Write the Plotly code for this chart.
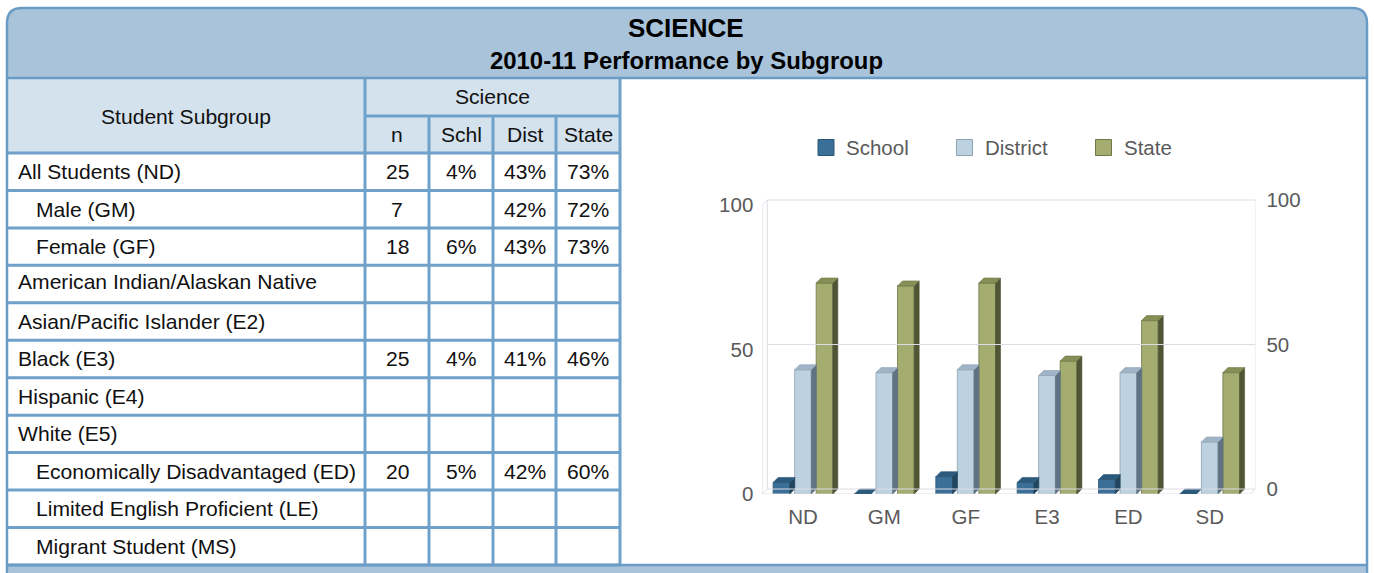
import plotly.graph_objects as go

W, H = 1374, 573

# ---------------- data ----------------
subgroups = ["All Students (ND)", "Male (GM)", "Female (GF)",
             "American Indian/Alaskan Native", "Asian/Pacific Islander (E2)",
             "Black (E3)", "Hispanic (E4)", "White (E5)",
             "Economically Disadvantaged (ED)", "Limited English Proficient (LE)",
             "Migrant Student (MS)"]
levels = [0, 1, 1, 0, 0, 0, 0, 0, 1, 1, 1]
n_vals = ["25", "7", "18", "", "", "25", "", "", "20", "", ""]
schl_vals = ["4%", "", "6%", "", "", "4%", "", "", "5%", "", ""]
dist_vals = ["43%", "42%", "43%", "", "", "41%", "", "", "42%", "", ""]
state_vals = ["73%", "72%", "73%", "", "", "46%", "", "", "60%", "", ""]
col_heads = ["n", "Schl", "Dist", "State"]

categories = ["ND", "GM", "GF", "E3", "ED", "SD"]
school = [4, 0, 6, 4, 5, 0]
district = [43, 42, 43, 41, 42, 18]
state = [73, 72, 73, 46, 60, 42]
series_names = ["School", "District", "State"]
y_ticks = [0, 50, 100]

# ---------------- helpers ----------------
def px(x):
    return x / W

def py(y):
    return 1 - y / H

BORDER = "#6B9CC5"
GRIDC = "#6FA1CA"
HEAD = "#A9C4DA"
CELLHEAD = "#D4E2ED"
FONT = "Liberation Sans, Arial, sans-serif"
TXT = "#111111"
CHTXT = "#5a5a5a"

shapes = []
annotations = []

def P(x, y):
    return f"{px(x):.6f},{py(y):.6f}"

# header band (rounded top)
L, R, T, HB, BOT, r = 7, 1367, 8, 78, 580, 15
shapes.append(dict(type="path", xref="paper", yref="paper",
                   path=f"M {P(L,HB)} L {P(L,T+r)} Q {P(L,T)} {P(L+r,T)} L {P(R-r,T)} Q {P(R,T)} {P(R,T+r)} L {P(R,HB)} Z",
                   fillcolor=HEAD, line=dict(width=0), layer="below"))
# bottom band
shapes.append(dict(type="path", xref="paper", yref="paper",
                   path=f"M {P(L,565)} L {P(R,565)} Q {P(R,BOT)} {P(R-r,BOT)} L {P(L+r,BOT)} Q {P(L,BOT)} {P(L,565)} Z",
                   fillcolor=HEAD, line=dict(width=0), layer="below"))
# table header fill
shapes.append(dict(type="rect", xref="paper", yref="paper",
                   x0=px(7), x1=px(621), y0=py(78), y1=py(153),
                   fillcolor=CELLHEAD, line=dict(width=0), layer="below"))

# table geometry
col_x = [7, 365, 429, 493, 556, 620]
row_top = 153
row_h = 37.45
nrows = len(subgroups)
row_y = [row_top + i * row_h for i in range(nrows + 1)]

def hline(y, x0, x1, w=3, c=GRIDC):
    shapes.append(dict(type="line", xref="paper", yref="paper",
                       x0=px(x0), x1=px(x1), y0=py(y), y1=py(y),
                       line=dict(color=c, width=w)))

def vline(x, y0, y1, w=3, c=GRIDC):
    shapes.append(dict(type="line", xref="paper", yref="paper",
                       x0=px(x), x1=px(x), y0=py(y0), y1=py(y1),
                       line=dict(color=c, width=w)))

for y in row_y:
    hline(y, 7, 621)
hline(116, 365, 621)
vline(365, 78, 565)
vline(620, 78, 565)
for x in col_x[2:5]:
    vline(x, 116, 565)
hline(78, 7, 1367, w=2.5, c=BORDER)

# outer border
shapes.append(dict(type="path", xref="paper", yref="paper",
                   path=f"M {P(L,BOT)} L {P(L,T+r)} Q {P(L,T)} {P(L+r,T)} L {P(R-r,T)} Q {P(R,T)} {P(R,T+r)} L {P(R,BOT)}",
                   line=dict(color=BORDER, width=2.5)))
hline(565, 7, 1367, w=2.5, c=BORDER)

# titles
annotations.append(dict(text="<b>SCIENCE</b>", x=px(686), y=py(28.5), xref="paper", yref="paper",
                        showarrow=False, font=dict(family=FONT, size=26, color="#000"),
                        xanchor="center", yanchor="middle"))
annotations.append(dict(text="<b>2010-11 Performance by Subgroup</b>", x=px(686.5), y=py(60.5),
                        xref="paper", yref="paper", showarrow=False,
                        font=dict(family=FONT, size=23.9, color="#000"),
                        xanchor="center", yanchor="middle"))

def ann(text, x, y, xanchor="center", size=21.1, color=TXT):
    annotations.append(dict(text=text, x=px(x), y=py(y), xref="paper", yref="paper",
                            showarrow=False, font=dict(family=FONT, size=size, color=color),
                            xanchor=xanchor, yanchor="middle"))

ann("Student Subgroup", 186, 116)
ann("Science", 492.5, 97)
centers = [(col_x[i] + col_x[i + 1]) / 2 for i in range(1, 5)]
for c, t in zip(centers, col_heads):
    ann(t, c, 135)

for i, name in enumerate(subgroups):
    yc = (row_y[i] + row_y[i + 1]) / 2
    if name.startswith("American"):
        yc = row_y[i] + 16
    ann(name, 16 + 18 * levels[i], yc, xanchor="left")
    for c, vals in zip(centers, [n_vals, schl_vals, dist_vals, state_vals]):
        if vals[i]:
            ann(vals[i], c, yc)

# ---------------- chart ----------------
XS = 81.35          # px per category
YS = 2.89           # px per unit
dx = 5 / XS
dy = 5 / YS
x_left_px = 762.3
x_range = [-0.5, 5.5 + dx]
x_right_px = x_left_px + (x_range[1] - x_range[0]) * XS
y0_px = 494
y_top_px = 195
y_range = [0, (y0_px - y_top_px) / YS]

colors = {
    "School": ("#3A6F97", "#2C5A7D", "#22465F", "#2A5676"),
    "District": ("#BDD2E1", "#9FB4C6", "#5F7382", "#8EA2B2"),
    "State": ("#A4AC70", "#878F57", "#4F5535", "#707748"),
}
offsets = [-0.367, -0.1026, 0.162]
bw = 0.205

fig = go.Figure()

wall = "#DCDCE5"
xl, xr = x_range[0], 5.5
fig.add_trace(go.Scatter(x=[xl, xr, xr + dx, None, xl, xl + dx, None, xl, xl],
                         y=[0, 0, dy, None, 0, dy, None, 0, 100],
                         mode="lines", line=dict(color=wall, width=1),
                         hoverinfo="skip", showlegend=False))
fig.add_trace(go.Scatter(x=[xl, xl + dx], y=[100, 100 + dy], mode="lines",
                         line=dict(color=wall, width=1), hoverinfo="skip", showlegend=False))
gx, gy = [], []
for v in y_ticks:
    gx += [xl + dx, xr + dx, None]
    gy += [v, v, None]
gx += [xl + dx, xl + dx, None, xr + dx, xr + dx]
gy += [0, 100, None, 0, 100]
fig.add_trace(go.Scatter(x=gx, y=gy, yaxis="y2", mode="lines",
                         line=dict(color=wall, width=1), hoverinfo="skip", showlegend=False))

xs = list(range(len(categories)))
for name, vals, off in zip(series_names, [school, district, state], offsets):
    front, top, side, edge = colors[name]
    fig.add_trace(go.Bar(x=xs, y=vals, offset=off, width=bw, name=name,
                         marker=dict(color=front, line=dict(color=edge, width=0.8)),
                         showlegend=False, hoverinfo="skip"))
for name, vals, off in zip(series_names, [school, district, state], offsets):
    front, top, side, edge = colors[name]
    tx, ty, sx, sy = [], [], [], []
    for i, v in zip(xs, vals):
        a = i + off
        b = a + bw
        tx += [a, a + dx, b + dx, b, a, None]
        ty += [v, v + dy, v + dy, v, v, None]
        if v > 0:
            sx += [b, b, b + dx, b + dx, b, None]
            sy += [0, v, v + dy, dy, 0, None]
    fig.add_trace(go.Scatter(x=sx, y=sy, mode="lines", fill="toself", fillcolor=side,
                             line=dict(color=side, width=0.6), hoverinfo="skip", showlegend=False))
    fig.add_trace(go.Scatter(x=tx, y=ty, mode="lines", fill="toself", fillcolor=top,
                             line=dict(color=edge, width=0.6), hoverinfo="skip", showlegend=False))

# legend (custom)
leg_sq = [818, 956.5, 1095.5]
for (name, sqx) in zip(series_names, leg_sq):
    front, top, side, edge = colors[name]
    shapes.append(dict(type="rect", xref="paper", yref="paper",
                       x0=px(sqx), x1=px(sqx + 16), y0=py(139.5), y1=py(155.5),
                       fillcolor=front, line=dict(color=edge, width=1)))
    annotations.append(dict(text=name, x=px(sqx + 26), y=py(147.5), xref="paper", yref="paper",
                            showarrow=False, xanchor="left", yanchor="middle",
                            font=dict(family=FONT, size=20.5, color=CHTXT)))

dom_x = [x_left_px / W, x_right_px / W]
dom_y = [1 - y0_px / H, 1 - y_top_px / H]
tickfont = dict(family=FONT, size=20.5, color=CHTXT)

fig.update_layout(
    width=W, height=H,
    margin=dict(l=0, r=0, t=0, b=0, pad=0, autoexpand=False),
    paper_bgcolor="white", plot_bgcolor="rgba(0,0,0,0)",
    barmode="overlay",
    showlegend=False,
    shapes=shapes, annotations=annotations,
    xaxis=dict(domain=dom_x, range=x_range, tickvals=xs, ticktext=categories,
               showgrid=False, zeroline=False, showline=False, ticks="", automargin=False,
               ticklabelstandoff=8, tickfont=tickfont, fixedrange=True),
    yaxis=dict(domain=dom_y, range=y_range, tickvals=y_ticks, showgrid=False,
               zeroline=False, showline=False, ticks="", ticklabelstandoff=8, automargin=False,
               tickfont=tickfont, fixedrange=True),
    yaxis2=dict(domain=dom_y, range=[y_range[0] - dy, y_range[1] - dy], overlaying="y",
                side="right", anchor="x", tickvals=y_ticks, showgrid=False, zeroline=False,
                showline=False, ticks="", ticklabelstandoff=10, tickfont=tickfont,
                automargin=False, fixedrange=True),
)

fig.write_html("out.html", config={"displayModeBar": False},
               post_script="document.body.style.margin='0px';document.body.style.overflow='hidden';")
